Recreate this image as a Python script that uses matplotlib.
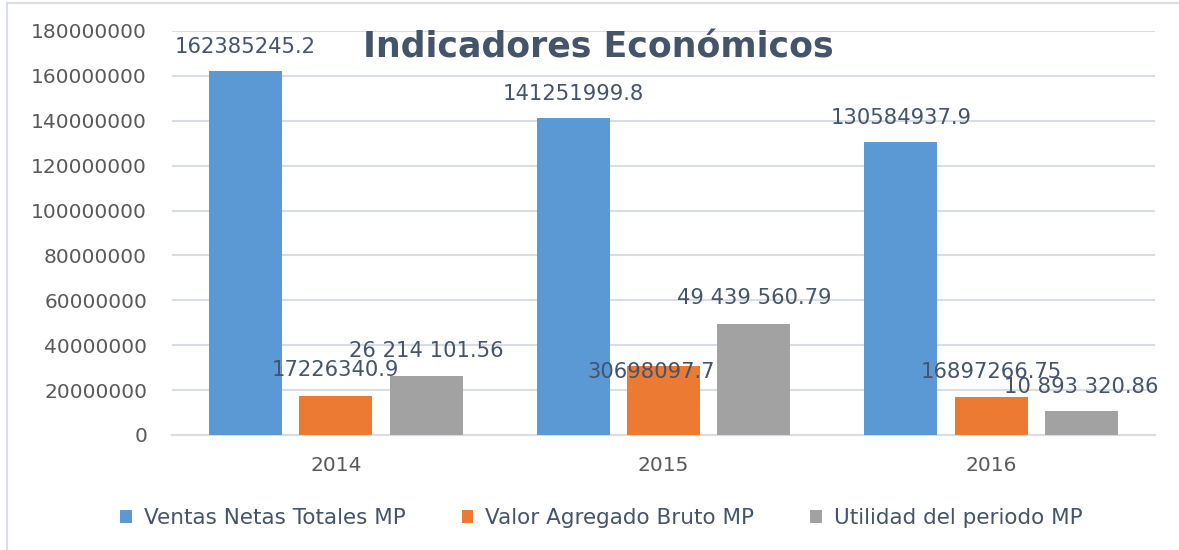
import matplotlib.pyplot as plt
from matplotlib.lines import Line2D
import numpy as np

years = ["2014", "2015", "2016"]
series_names = ["Ventas Netas Totales MP", "Valor Agregado Bruto MP", "Utilidad del periodo MP"]
ventas = [162385245.2, 141251999.8, 130584937.9]
valor = [17226340.9, 30698097.7, 16897266.75]
utilidad = [26214101.56, 49439560.79, 10893320.86]
ventas_lbl = ["162385245.2", "141251999.8", "130584937.9"]
valor_lbl = ["17226340.9", "30698097.7", "16897266.75"]
utilidad_lbl = ["26 214 101.56", "49 439 560.79", "10 893 320.86"]

colors = ["#5A99D4", "#EC7A33", "#A2A2A2"]
text_col = "#44546A"
grid_col = "#D9DCE2"
# label offsets in points (dx, dy above bar top), as placed in the original
offsets = [[(0, 17), (0, 17), (0, 17)],
           [(0, 19), (-9, -4), (0, 18)],
           [(0, 18), (0, 19), (0, 17)]]

fig = plt.figure(figsize=(11.79, 5.5), dpi=100)
ax = fig.add_axes([172 / 1179, 115 / 550, 983 / 1179, 404 / 550])

x = np.arange(len(years))
w = 0.223
step = 0.276
data = [ventas, valor, utilidad]
labels = [ventas_lbl, valor_lbl, utilidad_lbl]
for i in range(3):
    bars = ax.bar(x + (i - 1) * step, data[i], width=w, color=colors[i],
                  label=series_names[i], zorder=3)
    for j, b in enumerate(bars):
        dx, dy = offsets[i][j]
        ax.annotate(labels[i][j], (b.get_x() + b.get_width() / 2, b.get_height()),
                    xytext=(dx, dy), textcoords="offset points", ha="center",
                    va="center", fontsize=15.2, color=text_col, zorder=4)

ax.set_xlim(-0.5, 2.5)
ax.set_ylim(0, 180000000)
ax.set_yticks(np.arange(0, 180000001, 20000000))
ax.set_yticklabels([str(v) for v in range(0, 180000001, 20000000)])
ax.set_xticks(x)
ax.set_xticklabels(years)
ax.tick_params(axis="both", length=0, labelsize=14.5, labelcolor="#595959")
ax.tick_params(axis="y", pad=18)
ax.tick_params(axis="x", pad=15)
ax.yaxis.grid(True, color=grid_col, linewidth=1.5, zorder=0)
ax.set_axisbelow(True)
for s in ["left", "right", "top"]:
    ax.spines[s].set_visible(False)
ax.spines["bottom"].set_color(grid_col)
ax.spines["bottom"].set_linewidth(1.5)

fig.text(598 / 1179, 1 - 48 / 550, "Indicadores Económicos", ha="center", va="center",
         fontsize=25, fontweight="bold", color=text_col)

fig.legend(loc="center", bbox_to_anchor=(0.51, 1 - 518 / 550), ncol=3, frameon=False,
           fontsize=15.5, labelcolor=text_col, handlelength=0.55, handleheight=0.55,
           handletextpad=0.55, columnspacing=2.6)

# outer chart border (only top and left visible in the original crop)
fig.add_artist(Line2D([7 / 1179, 1], [1 - 3 / 550, 1 - 3 / 550], transform=fig.transFigure,
                      color="#DADDE3", linewidth=1.5))
fig.add_artist(Line2D([7 / 1179, 7 / 1179], [0, 1 - 3 / 550], transform=fig.transFigure,
                      color="#DADDE3", linewidth=1.5))

fig.savefig("out.png", dpi=100)
